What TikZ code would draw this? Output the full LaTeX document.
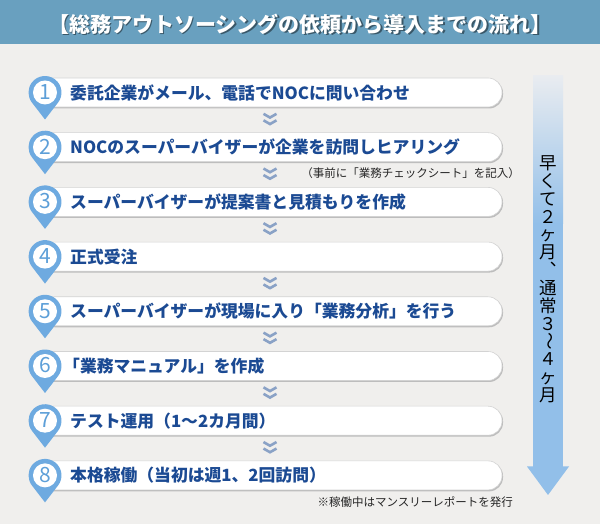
\documentclass[tikz,border=0pt]{standalone}
\usepackage{fontspec}
\newfontfamily\jp{Noto Sans CJK JP}
\usetikzlibrary{calc}
\definecolor{bg}{HTML}{F0EFED}
\definecolor{titlebar}{HTML}{69A0BF}
\definecolor{pinblue}{HTML}{6EAAE0}
\definecolor{numc}{HTML}{5D9FD8}
\definecolor{steptext}{HTML}{1B4A93}
\definecolor{chev}{HTML}{8AA2C6}
\definecolor{arrowblue}{HTML}{92BFE9}
\definecolor{arrowtop}{HTML}{E9ECF0}
\definecolor{barline}{HTML}{D3D3D3}
\definecolor{barshadow}{HTML}{BDBDBD}
\begin{document}
\begin{tikzpicture}[x=1pt,y=1pt,
  titletext/.style={inner sep=0, font=\jp\bfseries\fontsize{21}{21}\selectfont},
  steplabel/.style={anchor=west, inner sep=0, font=\jp\bfseries\fontsize{16.8}{16.8}\selectfont, text=steptext},
  numlabel/.style={inner sep=0, font=\jp\fontsize{21}{21}\selectfont, text=numc},
  note/.style={anchor=east, inner sep=0, font=\jp\fontsize{11.5}{11.5}\selectfont, text=black!85},
  vchar/.style={inner sep=0, anchor=base, font=\jp\fontsize{17.5}{17.5}\selectfont, text=black},
  barshape/.style={rounded corners=14pt},
  chevline/.style={draw=chev, line width=2.6pt, line join=miter},
]
\useasboundingbox (0,0) rectangle (600,524);
\fill[bg] (0,0) rectangle (600,524);
% title bar
\fill[titlebar] (0,480) rectangle (600,524);
\node[titletext, text=black, opacity=0.45] (titleshadow) at (301.5,498.5) {【総務アウトソーシングの依頼から導入までの流れ】};
\node[titletext, text=white] (title) at (300,500) {【総務アウトソーシングの依頼から導入までの流れ】};
% time arrow
\shade[top color=arrowtop, bottom color=arrowblue] (533,300) rectangle (563,448);
\fill[arrowblue] (533,57) rectangle (563,300.5);
\fill[arrowblue] (527,57.5) -- (569,57.5) -- (548,29) -- cycle;
% vertical text
\foreach \c [count=\i from 0] in {早,く,て,２,ヶ,月,,通,常,３,,４,ヶ,月} {
  \node[vchar] (v\i) at (548, 354.5-17.85*\i) {\c};
}
\node[vchar, anchor=base west] (vcomma) at (539.5, 247.5) {︑};
\node[inner sep=0, font=\jp\fontsize{17.5}{17.5}\selectfont, rotate=-90] (vwave) at (548, 361-17.85*10) {〜};
% steps
\foreach \k/\txt/\xs in {
  1/{委託企業がメール、電話でNOCに問い合わせ}/70,
  2/{NOCのスーパーバイザーが企業を訪問しヒアリング}/70,
  3/{スーパーバイザーが提案書と見積もりを作成}/70,
  4/{正式受注}/70,
  5/{スーパーバイザーが現場に入り「業務分析」を行う}/70,
  6/{「業務マニュアル」を作成}/63,
  7/{テスト運用（1〜2カ月間）}/70,
  8/{本格稼働（当初は週1、2回訪問）}/70} {
  \pgfmathsetmacro{\Y}{431.5-54.7*(\k-1)}
  \fill[barshadow, barshape] (41,\Y-16) rectangle (503,\Y+13.5);
  \filldraw[fill=white, draw=barline, line width=0.6pt, barshape] (40,\Y-14.5) rectangle (502,\Y+14.5);
  \coordinate (c\k) at (45,\Y);
  \fill[pinblue] ($(c\k)+(0,-27)$) -- ($(c\k)+(-37.7:16.5)$) arc[start angle=-37.7, end angle=217.7, radius=16.5] -- cycle;
  \fill[white] (c\k) circle (12);
  \node[numlabel] (num\k) at ($(c\k)+(0,0.5)$) {\k};
  \node[steplabel] (step\k) at (\xs,\Y) {\txt};
}
% chevrons between steps
\foreach \k in {1,...,7} {
  \pgfmathsetmacro{\M}{431.5-54.7*(\k-1)-27.35}
  \draw[chevline] (263.5,\M+6) -- (270,\M+2.3) -- (276.5,\M+6);
  \draw[chevline] (263.5,\M-0.5) -- (270,\M-4.2) -- (276.5,\M-0.5);
}
% notes
\node[note] (note2) at (520,351) {（事前に「業務チェックシート」を記入）};
\node[note] (note8) at (513,22) {※稼働中はマンスリーレポートを発行};
\end{tikzpicture}
\end{document}
